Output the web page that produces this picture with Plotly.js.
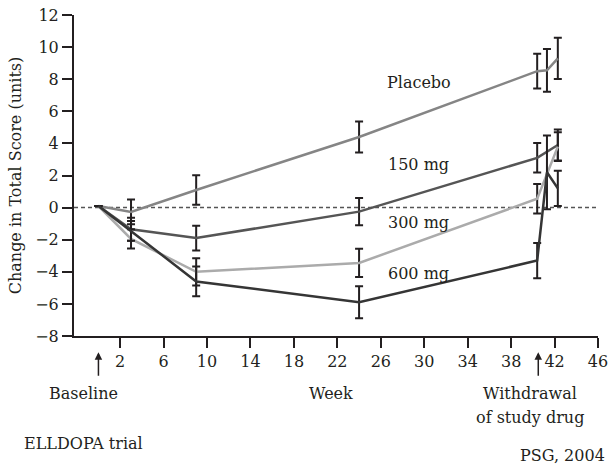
<!DOCTYPE html>
<html><head><meta charset="utf-8">
<script src="https://cdn.plot.ly/plotly-3.0.1.min.js"></script>
<style>html,body{margin:0;padding:0;background:#fff}#chart{width:610px;height:468px}</style>
</head><body><div id="chart"></div>
<script>
// Data (weeks, change in total score)
const placeboWeeks = [0, 3, 9, 24, 40.4, 41.3, 42.3];
const placeboVals  = [0.1, -0.27, 1.1, 4.4, 8.5, 8.55, 9.3];
const placeboErr   = [null, 0.77, 0.92, 0.96, 1.08, 1.33, 1.28];

const mg150Weeks = [0, 3, 9, 24, 40.4, 42.3];
const mg150Vals  = [0.1, -1.35, -1.9, -0.25, 3.1, 3.9];
const mg150Err   = [null, 0.72, 0.77, 0.85, 0.92, 0.96];

const mg300Weeks = [0, 3, 9, 24, 40.4, 42.3];
const mg300Vals  = [0.1, -1.95, -4.0, -3.45, 0.55, 3.8];
const mg300Err   = [null, 0.6, 0.85, 0.88, 0.92, 0.9];

const mg600Weeks = [0, 3, 9, 24, 40.4, 41.3, 42.3];
const mg600Vals  = [0.1, -1.45, -4.6, -5.9, -3.3, 2.2, 1.2];
const mg600Err   = [null, 0.62, 0.93, 1.0, 1.1, 2.3, 1.1];

const seriesNames = ["Placebo", "150 mg", "300 mg", "600 mg"];
const xTicks = [2, 6, 10, 14, 18, 22, 26, 30, 34, 38, 42, 46];
const yTicks = [-8, -6, -4, -2, 0, 2, 4, 6, 8, 10, 12];

const ink = "#231f20";
const FONT = "DejaVu Serif";
function tr(x, y, e, color, name) {
  return {
    type: "scatter", mode: "lines", x: x, y: y, name: name,
    line: {color: color, width: 2.5},
    error_y: {type: "data", array: e, visible: true, color: ink, thickness: 2, width: 4},
    hoverinfo: "skip", showlegend: false
  };
}
const data = [
  tr(placeboWeeks, placeboVals, placeboErr, "#858585", seriesNames[0]),
  tr(mg150Weeks, mg150Vals, mg150Err, "#555555", seriesNames[1]),
  tr(mg300Weeks, mg300Vals, mg300Err, "#ababab", seriesNames[2]),
  tr(mg600Weeks, mg600Vals, mg600Err, "#353535", seriesNames[3])
];

const layout = {
  width: 610, height: 468,
  margin: {l: 74, r: 12, t: 15, b: 132},
  paper_bgcolor: "#fff", plot_bgcolor: "#fff",
  font: {family: FONT, size: 16, color: ink},
  showlegend: false,
  xaxis: {
    range: [-2.25, 46], tickvals: xTicks, ticktext: xTicks.map(String),
    showgrid: false, zeroline: false, showline: true, linecolor: ink, linewidth: 2,
    ticks: "outside", ticklen: 10, tickwidth: 2, tickcolor: ink,
    tickfont: {family: FONT, size: 16, color: ink}
  },
  yaxis: {
    range: [-8, 12], tickvals: yTicks,
    showgrid: false, zeroline: false, showline: true, linecolor: ink, linewidth: 2,
    ticks: "outside", ticklen: 10, tickwidth: 2, tickcolor: ink,
    tickfont: {family: FONT, size: 16, color: ink},
    title: {text: "Change in Total Score (units)", font: {family: FONT, size: 16, color: ink}, standoff: 10}
  },
  shapes: [
    {type: "line", xref: "paper", yref: "y", x0: 0, x1: 1, y0: 0, y1: 0,
     line: {color: "#555", width: 1.5, dash: "4px,3px"}, layer: "below"}
  ],
  annotations: [
    {x: 0, y: -0.051, xref: "x", yref: "paper", text: "", showarrow: true, ax: 0, ay: 25,
     arrowhead: 2, arrowsize: 1, arrowwidth: 1.5, arrowcolor: ink},
    {x: 40.5, y: -0.051, xref: "x", yref: "paper", text: "", showarrow: true, ax: 0, ay: 25,
     arrowhead: 2, arrowsize: 1, arrowwidth: 1.5, arrowcolor: ink},
    {x: -1.4, y: -0.179, xref: "x", yref: "paper", text: "Baseline", showarrow: false, xanchor: "center", yanchor: "middle"},
    {x: 21.4, y: -0.179, xref: "x", yref: "paper", text: "Week", showarrow: false, xanchor: "center", yanchor: "middle"},
    {x: 39.7, y: -0.179, xref: "x", yref: "paper", text: "Withdrawal", showarrow: false, xanchor: "center", yanchor: "middle"},
    {x: 39.7, y: -0.254, xref: "x", yref: "paper", text: "of study drug", showarrow: false, xanchor: "center", yanchor: "middle"},
    {x: -0.099, y: -0.335, xref: "paper", yref: "paper", text: "ELLDOPA trial", showarrow: false, xanchor: "left", yanchor: "middle"},
    {x: 1.017, y: -0.372, xref: "paper", yref: "paper", text: "PSG, 2004", showarrow: false, xanchor: "right", yanchor: "middle"},
    {x: 29.5, y: 7.8, xref: "x", yref: "y", text: seriesNames[0], showarrow: false},
    {x: 29.5, y: 2.7, xref: "x", yref: "y", text: seriesNames[1], showarrow: false},
    {x: 29.5, y: -0.9, xref: "x", yref: "y", text: seriesNames[2], showarrow: false},
    {x: 29.5, y: -4.1, xref: "x", yref: "y", text: seriesNames[3], showarrow: false}
  ]
};
Plotly.newPlot("chart", data, layout, {staticPlot: true, displayModeBar: false});
</script></body></html>
